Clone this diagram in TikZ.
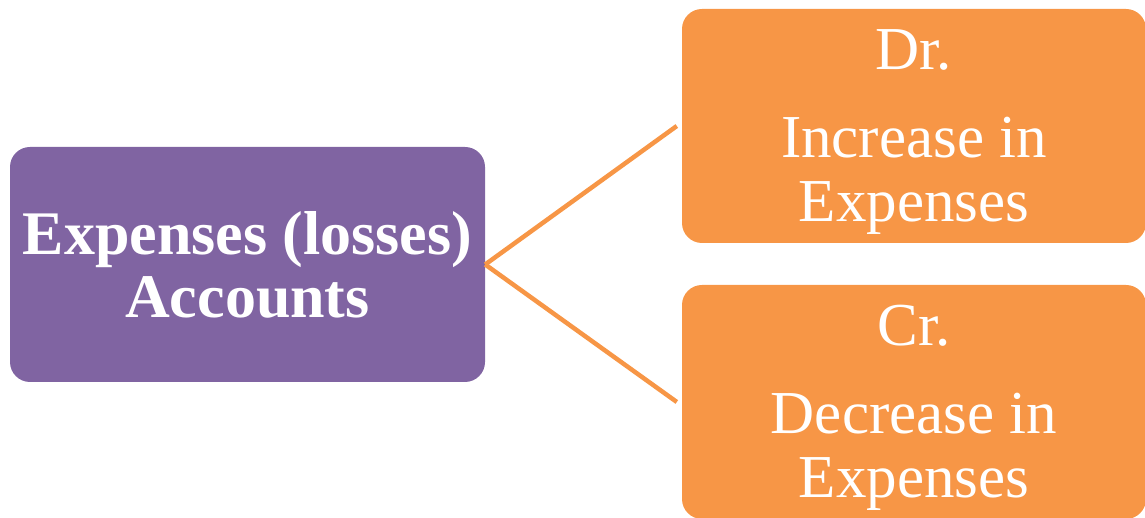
\documentclass[tikz,border=0pt]{standalone}
\usepackage{fontspec}
\setmainfont{Liberation Serif}
\definecolor{acctpurple}{HTML}{8064A2}
\definecolor{acctorange}{HTML}{F79646}
\begin{document}
\begin{tikzpicture}[x=1pt,y=1pt,
  box/.style={shape=rectangle,rounded corners=20pt,text=white,align=center,inner sep=0pt},
  side/.style={box,fill=acctorange,minimum width=464pt,minimum height=234pt},
  sidetext/.style={text=white,align=center,inner sep=0pt,font={\fontsize{61}{64}\selectfont}},
  link/.style={draw=acctorange,line width=4.5pt}]
\useasboundingbox (0,0) rectangle (1145,518);
\node[box,fill=acctpurple,minimum width=475pt,minimum height=235pt,font={\fontsize{62}{63}\selectfont\bfseries}] (acct) at (247.5,253.5) {Expenses (losses)\\Accounts};
\node[side] (dr) at (914,392) {};
\node[side] (cr) at (914,116) {};
\node[sidetext] (drtext) at ([yshift=-6pt]dr.center) {Dr.\\[24pt]Increase in\\Expenses};
\node[sidetext] (crtext) at ([yshift=-6pt]cr.center) {Cr.\\[24pt]Decrease in\\Expenses};

\path[link] (acct.east) edge ([xshift=-5pt]dr.west);
\path[link] (acct.east) edge ([xshift=-5pt]cr.west);
\end{tikzpicture}
\end{document}
